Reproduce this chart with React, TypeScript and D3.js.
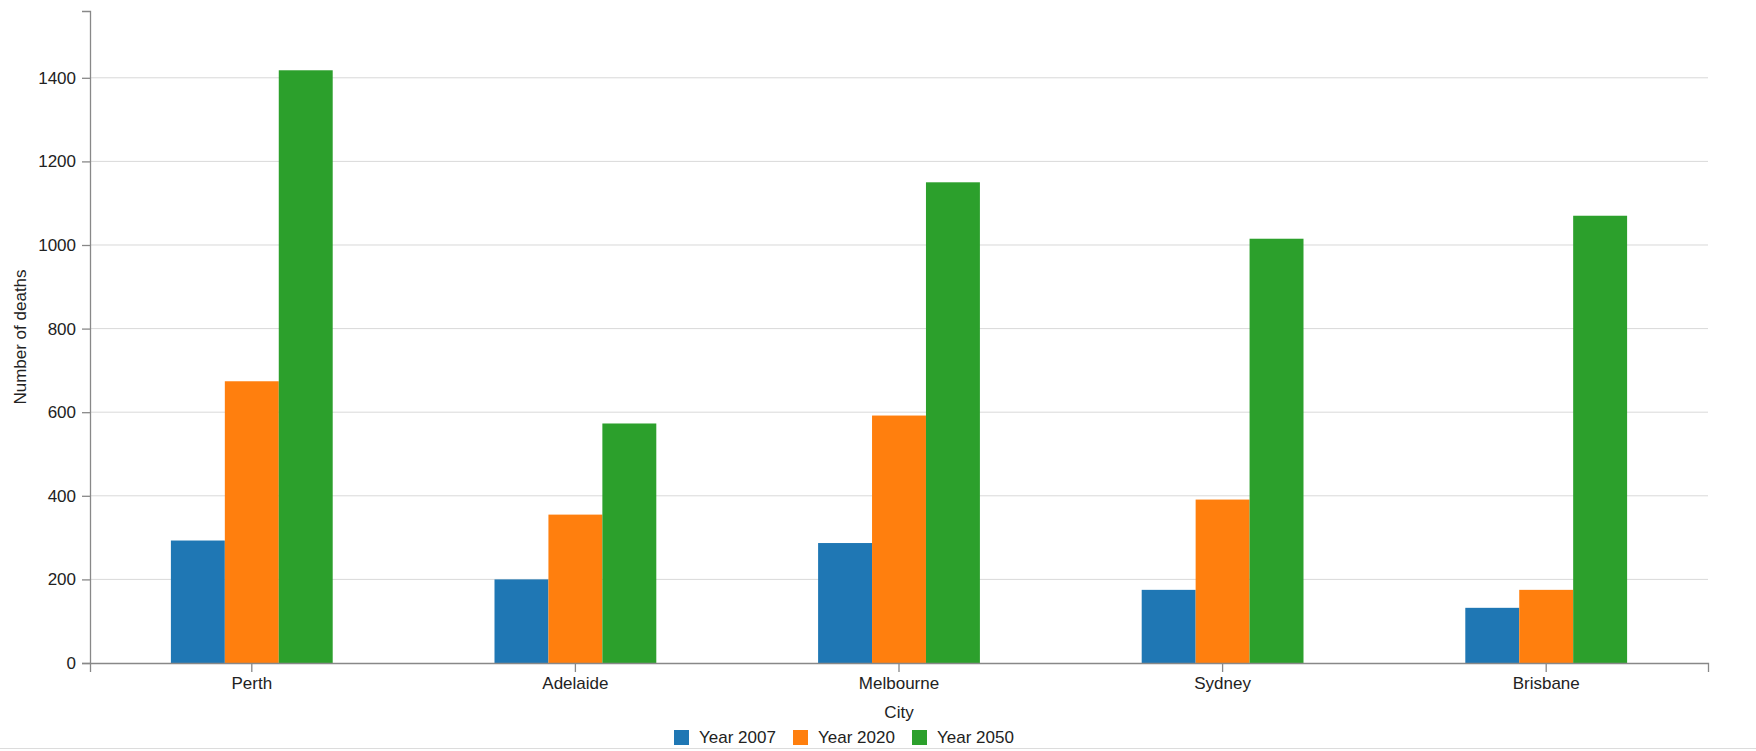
import React, { useEffect, useRef } from 'react';
import * as d3 from 'd3';

const cities = ['Perth', 'Adelaide', 'Melbourne', 'Sydney', 'Brisbane'];
const seriesNames = ['Year 2007', 'Year 2020', 'Year 2050'];
const year2007 = [293, 200, 287, 175, 132];
const year2020 = [674, 355, 592, 391, 175];
const year2050 = [1418, 573, 1150, 1015, 1070];
const colors = ['#1f77b4', '#ff7f0e', '#2ca02c'];

const App: React.FC = () => {
  const svgRef = useRef<SVGSVGElement>(null);

  useEffect(() => {
    if (!svgRef.current) return;
    const svg = d3.select(svgRef.current);
    svg.selectAll('*').remove();

    const width = 1756;
    const height = 751;
    const margin = { top: 11, right: 48, bottom: 88, left: 90 };
    const font = 'Arial, "Liberation Sans", sans-serif';
    const series = [year2007, year2020, year2050];

    const x0 = d3.scaleBand()
      .domain(cities)
      .range([margin.left, width - margin.right])
      .paddingInner(0.5)
      .paddingOuter(0.25);

    const x1 = d3.scaleBand()
      .domain(seriesNames)
      .range([0, x0.bandwidth()]);

    const maxVal = d3.max(series.flat()) as number;
    const y = d3.scaleLinear()
      .domain([0, maxVal * 1.1])
      .range([height - margin.bottom, margin.top]);

    const ticks = d3.range(0, 1401, 200);

    // grid lines
    svg.append('g')
      .selectAll('line')
      .data(ticks.filter(t => t > 0))
      .enter()
      .append('line')
      .attr('x1', margin.left)
      .attr('x2', width - margin.right)
      .attr('y1', d => y(d))
      .attr('y2', d => y(d))
      .attr('stroke', '#d9d9d9')
      .attr('stroke-width', 1);

    // bars
    cities.forEach((city, ci) => {
      const g = svg.append('g').attr('transform', `translate(${x0(city)},0)`);
      seriesNames.forEach((name, si) => {
        g.append('rect')
          .attr('x', x1(name) as number)
          .attr('y', y(series[si][ci]))
          .attr('width', x1.bandwidth())
          .attr('height', y(0) - y(series[si][ci]))
          .attr('fill', colors[si]);
      });
    });

    // x axis
    const xAxis = svg.append('g')
      .attr('transform', `translate(0,${height - margin.bottom})`)
      .call(d3.axisBottom(x0).tickSize(9).tickSizeOuter(9).tickPadding(5));
    xAxis.selectAll('text')
      .attr('font-size', '17px')
      .attr('font-family', font)
      .attr('fill', '#222');

    // y axis
    const yAxis = svg.append('g')
      .attr('transform', `translate(${margin.left},0)`)
      .call(d3.axisLeft(y).tickValues(ticks).tickFormat(d3.format('d')).tickSize(8).tickSizeOuter(8).tickPadding(6));
    yAxis.selectAll('text')
      .attr('font-size', '17px')
      .attr('font-family', font)
      .attr('fill', '#222');

    [xAxis, yAxis].forEach(a => {
      a.selectAll('path, line').attr('stroke', '#888').attr('stroke-width', 1.3);
    });

    // axis titles
    svg.append('text')
      .attr('x', (margin.left + width - margin.right) / 2)
      .attr('y', 718)
      .attr('text-anchor', 'middle')
      .attr('font-size', '17px')
      .attr('font-family', font)
      .attr('fill', '#222')
      .text('City');

    svg.append('text')
      .attr('transform', `translate(26,${(margin.top + height - margin.bottom) / 2}) rotate(-90)`)
      .attr('text-anchor', 'middle')
      .attr('font-size', '17px')
      .attr('font-family', font)
      .attr('fill', '#222')
      .text('Number of deaths');

    // legend
    const legend = svg.append('g').attr('transform', 'translate(674,730)');
    seriesNames.forEach((name, i) => {
      const item = legend.append('g').attr('transform', `translate(${i * 119},0)`);
      item.append('rect')
        .attr('width', 15)
        .attr('height', 15)
        .attr('fill', colors[i]);
      item.append('text')
        .attr('x', 25)
        .attr('y', 13)
        .attr('font-size', '17px')
        .attr('font-family', font)
        .attr('fill', '#222')
        .text(name);
    });

    // container bottom border
    svg.append('line')
      .attr('x1', 0)
      .attr('x2', width)
      .attr('y1', 748.5)
      .attr('y2', 748.5)
      .attr('stroke', '#dcdcdc')
      .attr('stroke-width', 1);
  }, []);

  return (
    <svg
      ref={svgRef}
      width={1756}
      height={751}
      style={{ position: 'absolute', left: 0, top: 0, background: '#fff' }}
    />
  );
};

export default App;
